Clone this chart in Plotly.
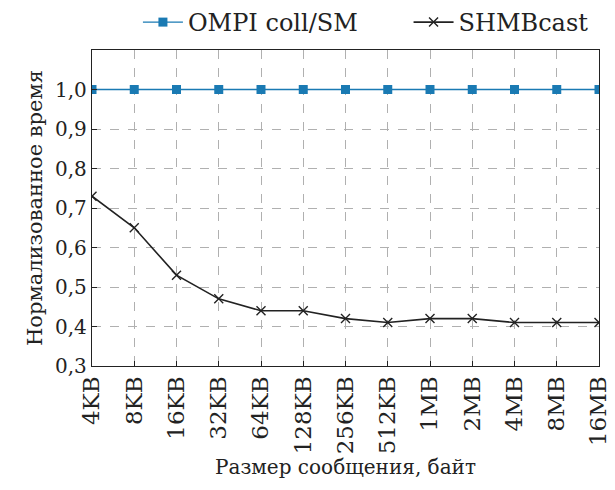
import plotly.graph_objects as go

categories = ["4KB", "8KB", "16KB", "32KB", "64KB", "128KB", "256KB", "512KB",
              "1MB", "2MB", "4MB", "8MB", "16MB"]
ompi = [1.0] * 13
shmbcast = [0.73, 0.65, 0.53, 0.47, 0.44, 0.44, 0.42, 0.41, 0.42, 0.42, 0.41, 0.41, 0.41]
ytick_vals = [0.3, 0.4, 0.5, 0.6, 0.7, 0.8, 0.9, 1.0]
ytick_text = ["0,3", "0,4", "0,5", "0,6", "0,7", "0,8", "0,9", "1,0"]

FONT = "DejaVu Serif"
fig = go.Figure()
fig.add_trace(go.Scatter(x=categories, y=ompi, mode="lines+markers",
                         name="OMPI coll/SM" + "\u00a0" * 6,
                         line=dict(color="#1a7ab3", width=1.3),
                         marker=dict(symbol="square", size=9, color="#1a7ab3")))
fig.add_trace(go.Scatter(x=categories, y=shmbcast, mode="lines+markers", name="SHMBcast",
                         line=dict(color="#222222", width=1.6),
                         marker=dict(symbol="x-thin", size=9, color="#222222",
                                     line=dict(width=1.4, color="#222222"))))
fig.update_layout(
    width=615, height=490,
    margin=dict(l=92, r=16, t=50, b=124, autoexpand=False),
    plot_bgcolor="white", paper_bgcolor="white",
    font=dict(family=FONT, size=19, color="#222222"),
    showlegend=True,
    legend=dict(orientation="h", x=0.99, xanchor="right", yref="container", y=1.0, yanchor="top",
                font=dict(family=FONT, size=24), itemwidth=40, traceorder="normal",
                bgcolor="rgba(0,0,0,0)"),
    xaxis=dict(type="category", range=[0, 12], tickangle=-90,
               showgrid=True, gridcolor="#b0b0b0", griddash="dash", gridwidth=1,
               showline=True, linecolor="#222222", linewidth=1.3, mirror=True,
               ticks="inside", ticklen=5, tickcolor="#222222",
               tickfont=dict(family=FONT, size=23),
               title=dict(text="Размер сообщения, байт", font=dict(family=FONT, size=20), standoff=6)),
    yaxis=dict(range=[0.3, 1.1], tickvals=ytick_vals, ticktext=ytick_text,
               showgrid=True, gridcolor="#b0b0b0", griddash="dash", gridwidth=1,
               showline=True, linecolor="#222222", linewidth=1.3, mirror=True,
               ticks="inside", ticklen=5, tickcolor="#222222", zeroline=False,
               tickfont=dict(family=FONT, size=20),
               title=dict(text="Нормализованное время", font=dict(family=FONT, size=21), standoff=6)),
)
fig.write_html("out.html")
